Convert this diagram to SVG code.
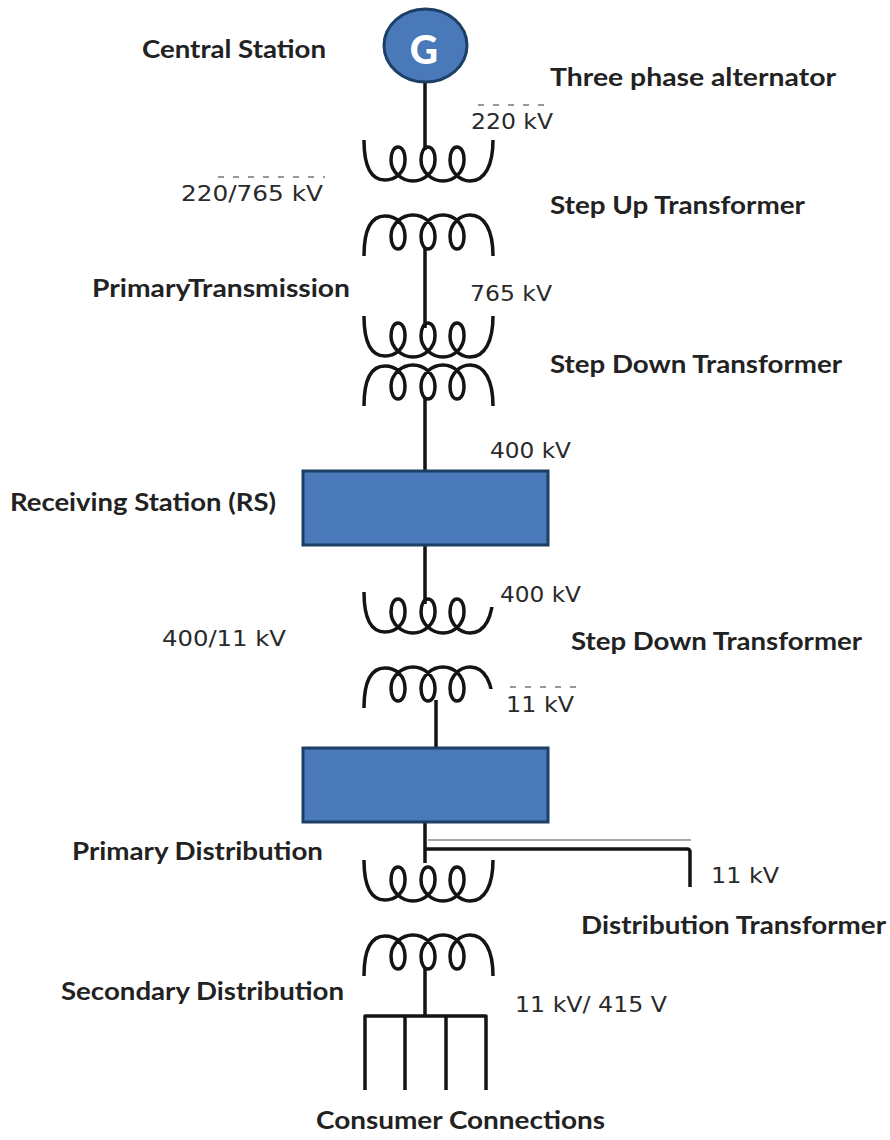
<svg xmlns="http://www.w3.org/2000/svg" xmlns:xlink="http://www.w3.org/1999/xlink" width="890" height="1140" viewBox="0 0 890 1140">
<style>
.l{font-family:"Lato","Open Sans","Liberation Sans",sans-serif;font-weight:700;font-size:25px;fill:#222}
.v{font-family:"DejaVu Sans","Liberation Sans",sans-serif;font-size:21px;fill:#2a2a2a}
.w{fill:none;stroke:#141414;stroke-width:3.5;stroke-linecap:butt;stroke-linejoin:round}
.d{fill:none;stroke:#777;stroke-width:1.5;stroke-dasharray:6 9}
.b{fill:#4a79b9;stroke:#1c3f66;stroke-width:3}
</style>
<defs>
<path id="coil" class="w" d="M364,140 C364,165 370,180 385,180 C396,180 405,172 405,160 C405,150 401,147 398,147 C394,147 391,152 391,160 C391,172 402,181 413,181 C424,181 435,172 435,160 C435,150 431,147 428,147 C424,147 421,152 421,160 C421,172 432,181 443,181 C454,181 464,172 464,160 C464,150 460,147 457,147 C453,147 450,152 450,160 C450,172 460,181 470,181 C485,181 493,165 493,140"/>
</defs>
<rect width="890" height="1140" fill="#fff"/>
<g id="connectors">
<path class="w" d="M425,82V150M425,248V328M425,397V471M425,545V604M436,700V748M425,822V863"/>
<path class="w" d="M425,849H687Q690,849 690,852V887"/>
<path d="M428,840H691" fill="none" stroke="#8a8a8a" stroke-width="1.5"/>
<path class="w" d="M425,968V1016M365,1090V1016H486V1090M405,1016V1090M446,1016V1090"/>
<path class="d" d="M478,105H545M218,177H325M510,687H585"/>
</g>
<g id="generator">
<ellipse cx="425.5" cy="45.5" rx="41.5" ry="36.5" fill="#4a79b9" stroke="#1c3f66" stroke-width="3"/>
<text x="424" y="64" text-anchor="middle" font-family="Lato,'Liberation Sans',sans-serif" font-weight="900" font-size="39" fill="#fff">G</text>
</g>
<g id="transformer-1">
<use xlink:href="#coil"/>
<use xlink:href="#coil" transform="translate(0,396) scale(1,-1)"/>
</g>
<g id="transformer-2">
<use xlink:href="#coil" transform="translate(0,176)"/>
<use xlink:href="#coil" transform="translate(0,546) scale(1,-1)"/>
</g>
<g id="receiving-station"><rect class="b" x="303" y="471" width="245" height="74"/></g>
<g id="transformer-3">
<use xlink:href="#coil" transform="translate(0,452)"/>
<use xlink:href="#coil" transform="translate(0,848) scale(1,-1)"/>
<path d="M486,590h12v17h-12zM486,689h12v22h-12z" fill="#fff"/>
</g>
<g id="primary-distribution"><rect class="b" x="303" y="748" width="245" height="74"/></g>
<g id="transformer-4">
<use xlink:href="#coil" transform="translate(0,720)"/>
<use xlink:href="#coil" transform="translate(0,1116) scale(1,-1)"/>
</g>
<g id="labels">
<text class="l" x="142" y="58" textLength="184" lengthAdjust="spacingAndGlyphs">Central Station</text>
<text class="l" x="550" y="86" textLength="286" lengthAdjust="spacingAndGlyphs">Three phase alternator</text>
<text class="l" x="550" y="214" textLength="255" lengthAdjust="spacingAndGlyphs">Step Up Transformer</text>
<text class="l" x="92" y="297" textLength="258" lengthAdjust="spacingAndGlyphs">PrimaryTransmission</text>
<text class="l" x="550" y="373" textLength="292" lengthAdjust="spacingAndGlyphs">Step Down Transformer</text>
<text class="l" x="10" y="511" textLength="266" lengthAdjust="spacingAndGlyphs">Receiving Station (RS)</text>
<text class="l" x="571" y="650" textLength="291" lengthAdjust="spacingAndGlyphs">Step Down Transformer</text>
<text class="l" x="72" y="860" textLength="251" lengthAdjust="spacingAndGlyphs">Primary Distribution</text>
<text class="l" x="581" y="934" textLength="305" lengthAdjust="spacingAndGlyphs">Distribution Transformer</text>
<text class="l" x="61" y="1000" textLength="283" lengthAdjust="spacingAndGlyphs">Secondary Distribution</text>
<text class="l" x="316" y="1129" textLength="289" lengthAdjust="spacingAndGlyphs">Consumer Connections</text>
<text class="v" x="471" y="129" textLength="82" lengthAdjust="spacingAndGlyphs">220 kV</text>
<text class="v" x="181" y="201" textLength="142" lengthAdjust="spacingAndGlyphs">220/765 kV</text>
<text class="v" x="470" y="301" textLength="82" lengthAdjust="spacingAndGlyphs">765 kV</text>
<text class="v" x="490" y="458" textLength="81" lengthAdjust="spacingAndGlyphs">400 kV</text>
<text class="v" x="500" y="602" textLength="81" lengthAdjust="spacingAndGlyphs">400 kV</text>
<text class="v" x="162" y="646" textLength="124" lengthAdjust="spacingAndGlyphs">400/11 kV</text>
<text class="v" x="506" y="712" textLength="68" lengthAdjust="spacingAndGlyphs">11 kV</text>
<text class="v" x="711" y="883" textLength="68" lengthAdjust="spacingAndGlyphs">11 kV</text>
<text class="v" x="515" y="1012" textLength="152" lengthAdjust="spacingAndGlyphs">11 kV/ 415 V</text>
</g>
</svg>
